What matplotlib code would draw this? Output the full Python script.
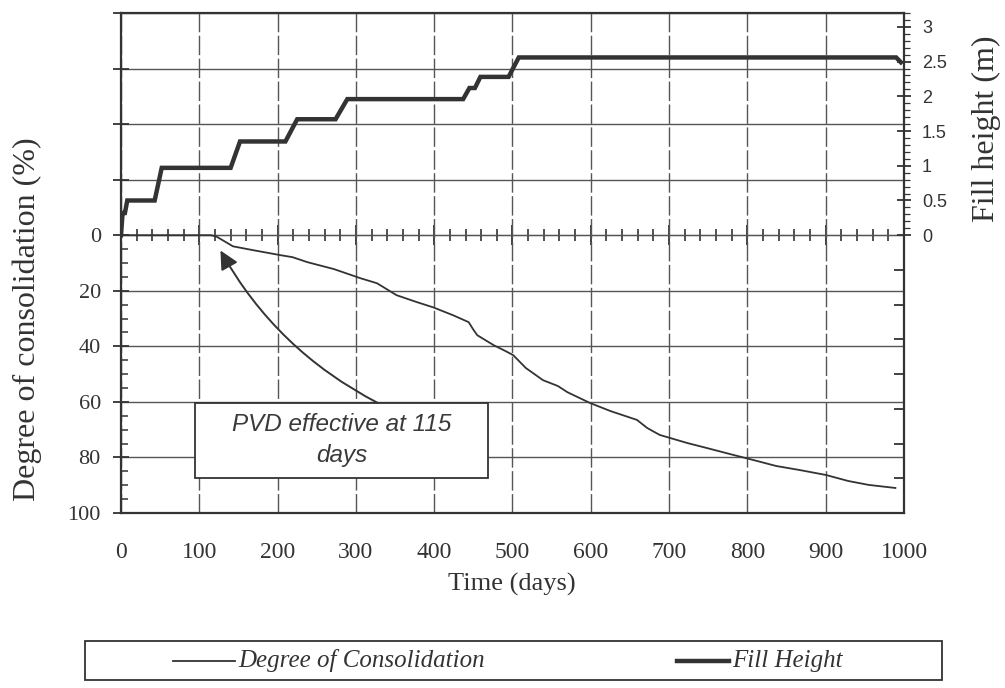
import matplotlib
matplotlib.use("Agg")
import matplotlib.pyplot as plt
from matplotlib.lines import Line2D
from matplotlib.patches import Rectangle
from matplotlib.ticker import FixedLocator, FuncFormatter, MultipleLocator

# data
cons_days = [0, 115, 122, 143, 169, 204, 219, 238, 272, 306, 327, 352, 378, 399, 424, 444,
             450, 455, 476, 491, 501, 517, 539, 558, 570, 599, 625, 659, 672, 688, 723, 748,
             782, 803, 837, 866, 900, 929, 955, 989]
cons_pct = [0, 0, 0.5, 4.0, 5.4, 7.2, 7.9, 9.7, 12.2, 15.5, 17.3, 21.6, 24.1, 26.0, 28.8, 31.3,
            34.0, 36.0, 39.6, 41.7, 43.2, 47.8, 52.2, 54.3, 56.5, 60.4, 63.3, 66.5, 69.4, 71.9,
            74.8, 76.6, 79.1, 80.6, 83.1, 84.5, 86.3, 88.5, 89.9, 91.0]

fill_days = [0, 2, 5, 8, 43, 52, 140, 152, 210, 225, 274, 289, 437, 445, 452, 459, 495, 508, 990, 996]
fill_m = [0, 0.32, 0.32, 0.50, 0.50, 0.97, 0.97, 1.35, 1.35, 1.67, 1.67, 1.96, 1.96, 2.12, 2.12,
          2.28, 2.28, 2.56, 2.56, 2.49]

x_ticks = list(range(0, 1001, 100))
cons_ticks = list(range(-80, 101, 20))
fill_ticks = [0, 0.5, 1, 1.5, 2, 2.5, 3]
fill_lower_ticks = [-3.5, -3, -2.5, -2, -1.5, -1, -0.5]

INK = "#333333"
GRID = "#555555"
SERIF = "Liberation Serif"
SANS = "Liberation Sans"

fig = plt.figure(figsize=(10.05, 6.88), dpi=100)
fig.patch.set_facecolor("white")
ax = fig.add_axes([0.1204, 0.2544, 0.7791, 0.7267])

# consolidation axis (inverted, extended upward so the fill panel sits above 0)
ax.set_xlim(0, 1000)
ax.set_ylim(100, -80)
ax.yaxis.set_major_locator(FixedLocator(cons_ticks))
ax.yaxis.set_minor_locator(FixedLocator(list(range(5, 100, 5))))
ax.yaxis.set_major_formatter(FuncFormatter(lambda v, p: f"{v:.0f}" if v >= 0 else ""))
ax.set_xticks(x_ticks)
ax.tick_params(axis="x", length=0, pad=21, labelsize=17, labelcolor=INK)
for lab in ax.get_xticklabels():
    lab.set_family(SERIF)
ax.tick_params(axis="y", which="major", direction="inout", length=11, width=1.3,
               pad=9, labelsize=16, labelcolor=INK, color=INK)
ax.tick_params(axis="y", which="minor", direction="in", length=5, width=1.1, color=INK)
for lab in ax.get_yticklabels():
    lab.set_family(SERIF)

ax.grid(axis="y", color=GRID, linewidth=1.0)
ax.grid(axis="x", color=GRID, linewidth=1.0, linestyle=(0, (14, 2.5)))
ax.set_axisbelow(True)
for s in ax.spines.values():
    s.set_color(INK)
    s.set_linewidth(1.6)

cons_line, = ax.plot(cons_days, cons_pct, color=INK, linewidth=1.3, zorder=3)

# x axis crossing at 0 %, with cross ticks
secx = ax.secondary_xaxis(100 / 180)
secx.set_xticks(x_ticks)
secx.xaxis.set_minor_locator(MultipleLocator(20))
secx.set_xticklabels([])
secx.tick_params(which="major", direction="inout", length=14, width=1.3, color=INK)
secx.tick_params(which="minor", direction="inout", length=9, width=1.2, color=INK)
secx.spines["bottom"].set_linewidth(2.0)
secx.spines["bottom"].set_color(INK)

# fill height axis
ax2 = ax.twinx()
ax2.set_ylim(-4, 3.2)
ax2.yaxis.set_major_locator(FixedLocator(fill_ticks))
ax2.yaxis.set_minor_locator(FixedLocator([i / 10 for i in range(0, 33)]))
ax2.yaxis.set_major_formatter(FuncFormatter(lambda v, p: f"{v:g}"))
ax2.tick_params(axis="y", which="major", direction="inout", length=10, width=1.3,
                pad=8, labelsize=13, labelcolor=INK, color=INK)
ax2.tick_params(axis="y", which="minor", direction="out", length=4, width=0.9, color=INK)
for lab in ax2.get_yticklabels():
    lab.set_family(SANS)
for s in ax2.spines.values():
    s.set_visible(False)
fill_line, = ax2.plot(fill_days, fill_m, color=INK, linewidth=3.2, zorder=3,
                      solid_joinstyle="miter")

# inward ticks on the lower part of the right axis
ax3 = ax.twinx()
ax3.set_ylim(-4, 3.2)
ax3.yaxis.set_major_locator(FixedLocator(fill_lower_ticks))
ax3.yaxis.set_major_formatter(FuncFormatter(lambda v, p: ""))
ax3.tick_params(axis="y", direction="in", length=7, width=1.3, color=INK)
for s in ax3.spines.values():
    s.set_visible(False)

# annotation box and arrow
ax.add_patch(Rectangle((95, 60.4), 374, 27, facecolor="white", edgecolor=INK,
                       linewidth=1.3, zorder=4))
ax.text(282, 73.6, "PVD effective at 115\ndays", ha="center", va="center",
        fontsize=17.5, family=SANS, style="italic", color="#3a3a3a",
        linespacing=1.45, zorder=5)
ax.annotate("", xy=(127, 5.5), xytext=(328, 60.4),
            arrowprops=dict(arrowstyle="-|>,head_length=0.8,head_width=0.4",
                            connectionstyle="arc3,rad=-0.15", color=INK, lw=1.4,
                            mutation_scale=14, shrinkA=0, shrinkB=0),
            zorder=5)

# axis titles
fig.text(27 / 1005, 1 - 319 / 688, "Degree of consolidation (%)", rotation=90,
         ha="center", va="center", fontsize=23, family=SERIF, color=INK)
fig.text(986 / 1005, 1 - 129 / 688, "Fill height (m)", rotation=90,
         ha="center", va="center", fontsize=23, family=SERIF, color=INK)
fig.text(512 / 1005, 1 - 584 / 688, "Time (days)", ha="center", va="center",
         fontsize=19, family=SERIF, color=INK)

# legend box drawn below the plot
W, H = 1005, 688
fig.add_artist(Rectangle((85 / W, 1 - 680 / H), 857 / W, 39 / H, transform=fig.transFigure,
                         facecolor="white", edgecolor=INK, linewidth=1.3))
ly = 1 - 661 / H
entries = [(cons_line, 173, 235, "Degree of Consolidation"),
           (fill_line, 677, 729, "Fill Height")]
for line, x0, x1, label in entries:
    fig.add_artist(Line2D([x0 / W, x1 / W], [ly, ly], transform=fig.transFigure,
                          color=line.get_color(), linewidth=line.get_linewidth()))
    fig.text((x1 + 3) / W, ly, label, ha="left", va="center", fontsize=18,
             family=SERIF, style="italic", color=INK)

fig.savefig("out.png", dpi=100)
